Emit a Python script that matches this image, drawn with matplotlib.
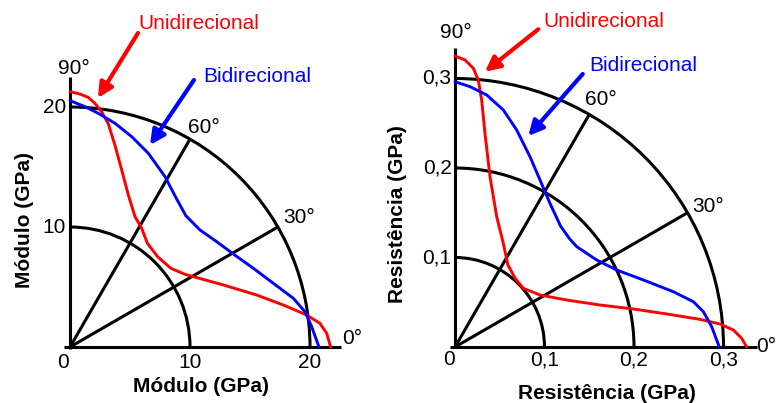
import numpy as np
import matplotlib
matplotlib.use("Agg")
import matplotlib.pyplot as plt
from matplotlib.patches import Arc

plt.rcParams['font.family'] = ['Liberation Sans', 'DejaVu Sans']

# Módulo (GPa) - polar curves as (x, y)
mod_uni_x = [0, 0.83, 1.53, 2.08, 2.64, 3.19, 3.75, 4.31, 4.86, 5.42, 5.97, 6.45, 7.3, 8.4, 9.6,
             10.28, 12.78, 15.56, 17.78, 19.72, 20.83, 21.39, 21.72]
mod_uni_y = [21.28, 21.08, 20.8, 20.3, 19.6, 18.6, 16.8, 14.75, 12.67, 10.86, 9.9, 8.64, 7.53, 6.56, 6.05,
             5.86, 5.17, 4.33, 3.5, 2.67, 1.97, 1.14, 0]
mod_bi_x = [0, 1.25, 2.36, 3.75, 5.14, 6.53, 7.92, 8.8, 9.65, 10.83, 12.22, 13.61, 15.28, 16.94,
            18.61, 19.58, 20.14, 20.75]
mod_bi_y = [20.53, 20.03, 19.47, 18.64, 17.53, 16.14, 14.19, 12.5, 10.95, 9.75, 8.78, 7.75, 6.56, 5.31,
            4.06, 2.94, 1.69, 0]
mod_rings = [10, 20]
mod_ticks = [0, 10, 20]
mod_tick_labels = ['0', '10', '20']

# Resistência (GPa)
res_uni_x = [0, 0.0112, 0.0205, 0.026, 0.0298, 0.0335, 0.0391, 0.0466, 0.054, 0.059, 0.067, 0.0763,
             0.095, 0.1248, 0.162, 0.1993, 0.2365, 0.2737, 0.2961, 0.311, 0.3203, 0.3259]
res_uni_y = [0.3251, 0.3207, 0.3114, 0.2983, 0.276, 0.2387, 0.1903, 0.1456, 0.1158, 0.092, 0.077, 0.0656,
             0.0581, 0.0525, 0.0469, 0.0425, 0.0369, 0.0309, 0.0257, 0.019, 0.0097, 0]
res_bi_x = [0, 0.0168, 0.0354, 0.054, 0.0689, 0.0838, 0.095, 0.1061, 0.118, 0.128, 0.136, 0.1583,
            0.1807, 0.2104, 0.2439, 0.2663, 0.2775, 0.2868, 0.2953]
res_bi_y = [0.2964, 0.2909, 0.2816, 0.2648, 0.2425, 0.2126, 0.1866, 0.1605, 0.135, 0.121, 0.1121, 0.0972,
            0.086, 0.0749, 0.0618, 0.0506, 0.0395, 0.0227, 0]
res_rings = [0.1, 0.2, 0.3]
res_ticks = [0, 0.1, 0.2, 0.3]
res_tick_labels = ['0', '0,1', '0,2', '0,3']

angles = [30, 60]

fig = plt.figure(figsize=(7.77, 4.03), dpi=100)
ax1 = fig.add_axes([0, 0, 388 / 777, 1])
ax2 = fig.add_axes([389 / 777, 0, 388 / 777, 1])

# pixel mapping: left 12 px per GPa, origin at (70, 347); right 895 px per GPa, origin at (455, 347)
ax1.set_xlim(-70 / 12, 318 / 12)
ax1.set_ylim(-56 / 12, 347 / 12)
ax2.set_xlim(-66 / 895, 322 / 895)
ax2.set_ylim(-56 / 895, 347 / 895)

fs = 15
blk = dict(color='black', lw=2.2, solid_capstyle='butt')
crv = dict(lw=2.1, solid_joinstyle='round', solid_capstyle='round')


def draw_panel(ax, rings, ticks, labels, ux, uy, bx, by, s, xlab, ylab, spec):
    rmax = rings[-1]
    ax.plot([-0.5 * s, spec['xend']], [0, 0], **blk)
    ax.plot([0, 0], [-0.15 * s, spec['yend']], **blk)
    for r in rings:
        ax.add_patch(Arc((0, 0), 2 * r, 2 * r, theta1=0, theta2=90, color='black', lw=2.2))
    for a in angles:
        t = np.radians(a)
        ax.plot([0, rmax * np.cos(t)], [0, rmax * np.sin(t)], **blk)
    ax.plot(ux, uy, color='red', **crv)
    ax.plot(bx, by, color='blue', **crv)
    for t, lab in zip(ticks, labels):
        if t == 0:
            ax.text(-0.6 * s, -1.3 * s, lab, fontsize=fs, ha='center', va='center')
        else:
            ax.text(t, -1.3 * s, lab, fontsize=fs, ha='center', va='center')
            ax.text(-0.35 * s, t, lab, fontsize=fs, ha='right', va='center')
    ax.text(spec['xlab'][0], spec['xlab'][1], xlab, fontsize=fs, fontweight='bold', ha='center', va='center')
    ax.text(spec['ylab'][0], spec['ylab'][1], ylab, fontsize=fs, fontweight='bold', ha='center', va='center',
            rotation=90)
    for lab, pos, ha in spec['deg']:
        ax.text(pos[0], pos[1], lab, fontsize=fs, ha=ha, va='center')
    ax.annotate('', xy=spec['uarrow'][1], xytext=spec['uarrow'][0],
                arrowprops=dict(arrowstyle='-|>', color='red', lw=3, mutation_scale=22, shrinkA=0, shrinkB=0))
    ax.annotate('', xy=spec['barrow'][1], xytext=spec['barrow'][0],
                arrowprops=dict(arrowstyle='-|>', color='blue', lw=3, mutation_scale=22, shrinkA=0, shrinkB=0))
    ax.text(spec['utext'][0], spec['utext'][1], 'Unidirecional', color='red', fontsize=fs, ha='left', va='center')
    ax.text(spec['btext'][0], spec['btext'][1], 'Bidirecional', color='blue', fontsize=fs, ha='left', va='center')
    ax.axis('off')


draw_panel(ax1, mod_rings, mod_ticks, mod_tick_labels, mod_uni_x, mod_uni_y, mod_bi_x, mod_bi_y, 1,
           'Módulo (GPa)', 'Módulo (GPa)',
           dict(xend=22.6, yend=22.5, xlab=(10.9, -3.33), ylab=(-3.75, 10.58),
                deg=[('90°', (0.33, 23.25), 'center'), ('60°', (9.83, 18.33), 'left'),
                     ('30°', (17.75, 10.83), 'left'), ('0°', (22.67, 0.75), 'left')],
                uarrow=((5.67, 26.17), (2.33, 20.75)), barrow=((10.33, 22.25), (6.67, 16.83)),
                utext=(5.67, 27.0), btext=(11.08, 22.58)))

draw_panel(ax2, res_rings, res_ticks, res_tick_labels, res_uni_x, res_uni_y, res_bi_x, res_bi_y, 1 / 90,
           'Resistência (GPa)', 'Resistência (GPa)',
           dict(xend=0.337, yend=0.334, xlab=(0.170, -0.0514), ylab=(-0.0637, 0.1486),
                deg=[('90°', (0.001, 0.351), 'center'), ('60°', (0.145, 0.276), 'left'),
                     ('30°', (0.265, 0.1575), 'left'), ('0°', (0.337, 0.0), 'left')],
                uarrow=((0.093, 0.355), (0.0335, 0.3076)), barrow=((0.1427, 0.305), (0.0819, 0.2358)),
                utext=(0.0983, 0.3642), btext=(0.1497, 0.314)))

fig.savefig('out.png', dpi=100)
